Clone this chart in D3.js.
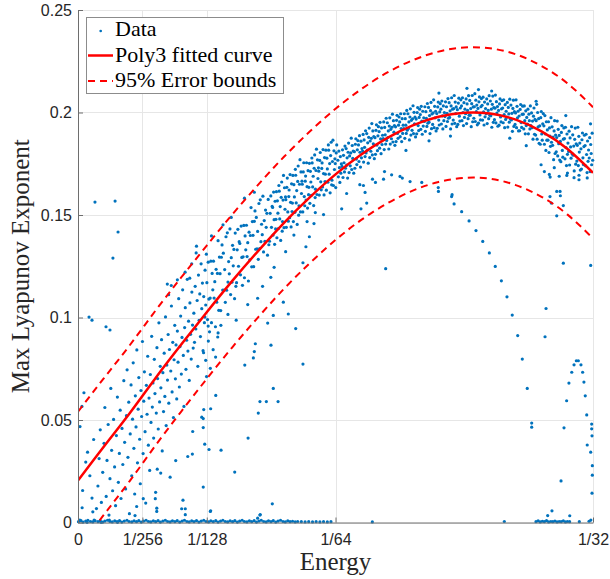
<!DOCTYPE html>
<html><head><meta charset="utf-8">
<script src="https://cdn.jsdelivr.net/npm/d3@7"></script>
<style>body{margin:0;background:#fff}svg{display:block}</style>
</head><body><svg id="c" width="610" height="579"></svg>
<script>
// ---------- axis ticks ----------
const xTicks=[0,1/256,1/128,1/64,1/32];
const xTickLabels=["0","1/256","1/128","1/64","1/32"];
const yTicks=[0,0.05,0.1,0.15,0.2,0.25];
const yTickLabels=["0","0.05","0.1","0.15","0.2","0.25"];
const legendLabels=["Data","Poly3 fitted curve","95% Error bounds"];

// ---------- fitted curve and 95% bounds ----------
const fitE=[0,0.0015625,0.003125,0.0046875,0.00625,0.0078125,0.009375,0.0109375,0.0125,0.0140625,0.015625,0.0171875,0.01875,0.0203125,0.021875,0.0234375,0.025,0.0265625,0.028125,0.0296875,0.03125];
const fitL=[0.0205,0.0370,0.0532,0.0703,0.0867,0.1026,0.1180,0.1325,0.1462,0.1586,0.1698,0.1795,0.1875,0.1937,0.1979,0.1999,0.1995,0.1965,0.1908,0.1823,0.1706];
const upperL=[0.0540,0.0703,0.0863,0.1032,0.1194,0.1351,0.1504,0.1648,0.1784,0.1907,0.2018,0.2114,0.2194,0.2255,0.2297,0.2317,0.2313,0.2284,0.2227,0.2143,0.2026];
const lowerL=[-0.0130,0.0037,0.0201,0.0374,0.0540,0.0701,0.0856,0.1002,0.1140,0.1265,0.1378,0.1476,0.1556,0.1619,0.1661,0.1681,0.1677,0.1646,0.1589,0.1503,0.1386];

// ---------- scatter data [Energy, MaxLyapunov] ----------
const zeroRow=[[0.00003,0.0004],[0.00018,0.0009],[0.00031,0.0002],[0.00047,0.0007],[0.0006,0.0011],[0.00076,0.0005],[0.0009,0.0003],[0.00104,0.0008],
[0.00121,0.0004],[0.00135,0.0009],[0.0015,0.0002],[0.00163,0.0007],[0.00179,0.0011],[0.00194,0.0005],[0.00208,0.0003],[0.00223,0.0008],
[0.00237,0.0004],[0.00252,0.0009],[0.00266,0.0002],[0.00281,0.0007],[0.00297,0.0011],[0.0031,0.0005],[0.00326,0.0003],[0.0034,0.0008],
[0.00355,0.0004],[0.00369,0.0009],[0.00384,0.0002],[0.00398,0.0007],[0.00413,0.0011],[0.00428,0.0005],[0.00442,0.0003],[0.00457,0.0008],
[0.00471,0.0004],[0.00486,0.0009],[0.005,0.0002],[0.00515,0.0007],[0.0053,0.0011],[0.00544,0.0005],[0.00559,0.0003],[0.00573,0.0008],
[0.00588,0.0004],[0.00602,0.0009],[0.00617,0.0002],[0.00632,0.0007],[0.00646,0.0011],[0.00661,0.0005],[0.00675,0.0003],[0.0069,0.0008],
[0.00704,0.0004],[0.00719,0.0009],[0.00734,0.0002],[0.00748,0.0007],[0.00763,0.0011],[0.00777,0.0005],[0.00792,0.0003],[0.00806,0.0008],
[0.00821,0.0004],[0.00836,0.0009],[0.0085,0.0002],[0.00865,0.0007],[0.00879,0.0011],[0.00894,0.0005],[0.00908,0.0003],[0.00923,0.0008],
[0.00938,0.0004],[0.00952,0.0009],[0.00967,0.0002],[0.00981,0.0007],[0.00996,0.0011],[0.0101,0.0005],[0.01025,0.0003],[0.0104,0.0008],
[0.01054,0.0004],[0.01069,0.0009],[0.01083,0.0002],[0.01098,0.0007],[0.01112,0.0011],[0.01127,0.0005],[0.01142,0.0003],[0.01156,0.0008],
[0.01171,0.0004],[0.01185,0.0009],[0.012,0.0002],[0.01214,0.0007],[0.01229,0.0011],[0.01244,0.0005],[0.01258,0.0003],[0.01273,0.0008],
[0.01287,0.0004],[0.01302,0.0006],[0.01318,0.0003],[0.01333,0.0005],[0.01355,0.0004],[0.01378,0.0003],[0.014,0.0004],[0.01423,0.0003],
[0.01445,0.0004],[0.01468,0.0003],[0.0149,0.0004],[0.01513,0.0003],[0.01535,0.0004],
[0.00011,0.0012],[0.00055,0.0001],[0.00098,0.0012],[0.0014,0.0001],[0.0019,0.0012],[0.0024,0.0001],
[0.01786,0.0003],[0.02587,0.0005],[0.02779,0.0004],[0.02792,0.0008],[0.02805,0.0003],[0.02818,0.0006],[0.0283,0.0004],[0.02843,0.0009],
[0.02856,0.0003],[0.02869,0.0005],[0.02881,0.0004],[0.02894,0.0007],[0.02907,0.0003],[0.0292,0.0005],[0.02932,0.0004],[0.02945,0.0008],
[0.02958,0.0003],[0.0297,0.0005],[0.02983,0.0004],[0.03042,0.0004],[0.03101,0.0006],[0.03112,0.0012]];

const bandLow=[[0.00025,0.0072],[0.00028,0.0156],[0.00058,0.0343],[0.00047,0.0295],[0.00085,0.0119],[0.0009,0.0052],[0.00072,0.0228],[0.00095,0.0405],
[0.00112,0.0068],[0.00121,0.0178],[0.00128,0.0312],[0.00135,0.0452],[0.00142,0.0098],[0.0015,0.0245],[0.00158,0.0386],[0.00163,0.0561],[0.00171,0.0127],[0.00176,0.0303],[0.00183,0.0478],[0.00188,0.0036],[0.00194,0.0214],[0.00199,0.0654],
[0.00204,0.0352],[0.0021,0.0155],[0.00216,0.0503],[0.00222,0.0271],[0.00228,0.0082],[0.00233,0.0424],[0.00239,0.0612],[0.00245,0.0196],[0.00251,0.0337],[0.00256,0.0548],[0.00261,0.0117],[0.00267,0.0459],[0.00272,0.0283],[0.00278,0.0692],[0.00283,0.0391],[0.00289,0.0164],[0.00294,0.0521],[0.00298,0.0745],
[0.00303,0.0318],[0.00308,0.0587],[0.00312,0.0043],[0.00317,0.0432],[0.00322,0.0671],[0.00326,0.0228],[0.00331,0.0504],[0.00335,0.0779],[0.00339,0.0362],[0.00344,0.0139],[0.00348,0.0618],[0.00352,0.0466],[0.00357,0.0842],[0.00361,0.0291],[0.00365,0.0553],[0.00369,0.0707],[0.00374,0.0406],[0.00378,0.0189],[0.00382,0.0644],[0.00386,0.0517],[0.00391,0.0883],[0.00395,0.0336],[0.00399,0.0592],
[0.00403,0.0735],[0.00407,0.0443],[0.00411,0.0095],[0.00415,0.0669],[0.00419,0.0528],[0.00423,0.0811],[0.00427,0.0377],[0.00431,0.0607],[0.00435,0.0254],[0.00439,0.0722],[0.00443,0.0488],[0.00447,0.0908],[0.00451,0.0563],[0.00455,0.0681],[0.00459,0.0412],[0.00463,0.0796],[0.00467,0.0629],[0.00471,0.0147],[0.00475,0.0534],[0.00479,0.0853],[0.00483,0.0702],[0.00487,0.0456],[0.00491,0.0974],[0.00495,0.0588],[0.00499,0.0762],
[0.00503,0.0657],[0.00507,0.0892],[0.00511,0.0349],[0.00515,0.0731],[0.00519,0.0541],[0.00523,0.0826],[0.00527,0.0615],[0.00531,0.1003],[0.00535,0.0473],[0.00539,0.0768],[0.00543,0.0695],[0.00547,0.0917],[0.00551,0.0582],[0.00555,0.0844],[0.00559,0.0221],[0.00563,0.0739],[0.00567,0.1056],[0.00571,0.0637],[0.00575,0.0879],[0.00579,0.0512],[0.00583,0.0794],[0.00587,0.0962],[0.00591,0.0701],[0.00595,0.0866],[0.00599,0.0603],
[0.00603,0.0934],[0.00607,0.0782],[0.00611,0.1092],[0.00615,0.0661],[0.00619,0.0858],[0.00623,0.1007],[0.00627,0.0724],[0.00631,0.0903],[0.00635,0.1135],[0.00639,0.0815],[0.00643,0.0566],[0.00647,0.0951],[0.00651,0.1048],[0.00655,0.0747],[0.00659,0.0889],[0.00663,0.1186],[0.00667,0.0836],[0.00671,0.0982],[0.00675,0.0693],[0.00679,0.1071],[0.00683,0.0918],[0.00687,0.0797],[0.00691,0.1124],[0.00695,0.0963],[0.00699,0.0851],
[0.00703,0.1021],[0.00707,0.0879],[0.00711,0.1152],[0.00715,0.0944],[0.00719,0.1348],[0.00723,0.1083],[0.00727,0.0762],[0.00731,0.1207],[0.00735,0.0986],[0.00739,0.1115],[0.00743,0.0907],[0.00747,0.1262],[0.00751,0.1043],[0.00755,0.1168],[0.00759,0.0838],[0.00763,0.1102],[0.00767,0.0975],[0.00771,0.1231],[0.00775,0.1061],[0.00779,0.1309],
[0.00024,0.0566],[0.00036,0.0633],[0.00012,0.0468],[0.00717,0.1315],[0.00542,0.1163],[0.00566,0.1156],[0.00603,0.1184],[0.0055,0.1111],[0.00678,0.1192],[0.0065,0.1221],[0.0069,0.1262],
[0.00762,0.0828],[0.00775,0.0791],[0.0078,0.0712],[0.00791,0.0885],[0.00803,0.0752],[0.0082,0.0843],[0.00835,0.0807],[0.00848,0.0905],[0.00867,0.0962],[0.0091,0.1015],[0.0077,0.1002],[0.0079,0.0958]];

const bandMid=[[0.00782,0.117],[0.00786,0.099],[0.0079,0.127],[0.00794,0.109],[0.00798,0.093],
[0.00802,0.1095],[0.00806,0.1275],[0.0081,0.0975],[0.00814,0.1215],[0.00818,0.1135],
[0.00822,0.1275],[0.00826,0.1095],[0.0083,0.1175],[0.00834,0.0955],[0.00838,0.1235],
[0.00842,0.1075],[0.00846,0.1215],[0.0085,0.1375],[0.00854,0.1035],[0.00858,0.1295],
[0.00862,0.1214],[0.00866,0.1034],[0.0087,0.1294],[0.00874,0.1354],[0.00878,0.1134],
[0.00882,0.1314],[0.00886,0.1134],[0.0089,0.1234],[0.00894,0.1074],[0.00898,0.1394],
[0.00902,0.1133],[0.00906,0.1413],[0.0091,0.1173],[0.00914,0.1273],[0.00918,0.1213],
[0.00922,0.1432],[0.00926,0.1112],[0.0093,0.1292],[0.00934,0.1172],[0.00938,0.1352],
[0.00942,0.1252],[0.00946,0.1332],[0.0095,0.1092],[0.00954,0.1412],[0.00958,0.1152],
[0.00962,0.117],[0.00966,0.133],[0.0097,0.143],[0.00974,0.125],[0.00978,0.137],
[0.00982,0.1361],[0.00986,0.1208],[0.0099,0.1446],[0.00994,0.1293],[0.00998,0.1157],
[0.01002,0.1296],[0.01006,0.1449],[0.0101,0.1194],[0.01014,0.1398],[0.01018,0.133],
[0.01022,0.145],[0.01026,0.1297],[0.0103,0.1365],[0.01034,0.1178],[0.01038,0.1416],
[0.01042,0.1281],[0.01046,0.14],[0.0105,0.1536],[0.01054,0.1247],[0.01058,0.1468],
[0.01062,0.1401],[0.01066,0.1248],[0.0107,0.1469],[0.01074,0.152],[0.01078,0.1333],
[0.01082,0.1488],[0.01086,0.1335],[0.0109,0.142],[0.01094,0.1284],[0.01098,0.1556],
[0.01102,0.1336],[0.01106,0.1574],[0.0111,0.137],[0.01114,0.1455],[0.01118,0.1404],
[0.01122,0.1592],[0.01126,0.132],[0.0113,0.1473],[0.01134,0.1371],[0.01138,0.1524],
[0.01142,0.144],[0.01146,0.1508],[0.0115,0.1304],[0.01154,0.1576],[0.01158,0.1355],
[0.01162,0.1372],[0.01166,0.1508],[0.0117,0.1593],[0.01174,0.144],[0.01178,0.1542],
[0.01181,0.1537],[0.01184,0.1402],[0.01187,0.1612],[0.0119,0.1477],[0.01193,0.1357],[0.01196,0.1567],[0.01199,0.1432],
[0.01201,0.1479],[0.01204,0.1614],[0.01207,0.1389],[0.0121,0.1569],[0.01213,0.1509],[0.01216,0.1434],[0.01219,0.1644],
[0.01221,0.1616],[0.01224,0.1481],[0.01227,0.1541],[0.0123,0.1376],[0.01233,0.1586],[0.01236,0.1661],[0.01239,0.1421],
[0.01241,0.1468],[0.01244,0.1573],[0.01247,0.1693],[0.0125,0.1438],[0.01253,0.1633],[0.01256,0.1528],[0.01259,0.1588],
[0.01261,0.1575],[0.01264,0.144],[0.01267,0.1635],[0.0127,0.168],[0.01273,0.1515],[0.01276,0.147],[0.01279,0.159],
[0.01281,0.1622],[0.01284,0.1487],[0.01287,0.1697],[0.0129,0.1562],[0.01293,0.1442],[0.01296,0.1652],[0.01299,0.1517],
[0.01301,0.1558],[0.01304,0.1693],[0.01307,0.1468],[0.0131,0.1648],[0.01313,0.1588],[0.01316,0.1513],[0.01319,0.1723],
[0.01321,0.1694],[0.01324,0.1559],[0.01327,0.1619],[0.0133,0.1454],[0.01333,0.1664],[0.01336,0.1739],[0.01339,0.1499],
[0.01341,0.1545],[0.01344,0.165],[0.01347,0.177],[0.0135,0.1515],[0.01353,0.171],[0.01356,0.1605],[0.01359,0.1665],
[0.01361,0.165],[0.01364,0.1515],[0.01367,0.171],[0.0137,0.1755],[0.01373,0.159],[0.01376,0.1545],[0.01379,0.1665],
[0.01381,0.169],[0.01384,0.1573],[0.01387,0.1755],[0.0139,0.1638],[0.01393,0.1534],[0.01396,0.1716],[0.01399,0.1599],
[0.01401,0.1635],[0.01404,0.1752],[0.01407,0.1557],[0.0141,0.1713],[0.01413,0.1661],[0.01416,0.1596],[0.01419,0.1778],
[0.01421,0.1754],[0.01424,0.1637],[0.01427,0.1689],[0.0143,0.1546],[0.01433,0.1728],[0.01436,0.1793],[0.01439,0.1585],
[0.01441,0.1626],[0.01444,0.1717],[0.01447,0.1821],[0.0145,0.16],[0.01453,0.1769],[0.01456,0.1678],[0.01459,0.173],
[0.01461,0.1714],[0.01464,0.1597],[0.01467,0.1766],[0.0147,0.1805],[0.01473,0.1662],[0.01476,0.1623],[0.01479,0.1727],
[0.01481,0.1754],[0.01484,0.1637],[0.01487,0.1819],[0.0149,0.1702],[0.01493,0.1598],[0.01496,0.178],[0.01499,0.1663],
[0.01501,0.1699],[0.01504,0.1816],[0.01507,0.1621],[0.0151,0.1777],[0.01513,0.1725],[0.01516,0.166],[0.01519,0.1842],
[0.01521,0.1816],[0.01524,0.1699],[0.01527,0.1751],[0.0153,0.1608],[0.01533,0.179],[0.01536,0.1855],[0.01539,0.1647],
[0.01541,0.167],[0.01544,0.1761],[0.01547,0.1865],[0.0155,0.1644],[0.01553,0.1813],[0.01556,0.1722],[0.01559,0.1774],
[0.01561,0.1751],[0.01564,0.1634],[0.01567,0.1803],[0.0157,0.1842],
[0.0081,0.1398],[0.0088,0.1452],[0.0093,0.1488],[0.0101,0.1582],[0.0107,0.1611],[0.0096,0.0987],[0.0103,0.1063],[0.0112,0.1152],[0.0119,0.1245],[0.0126,0.1321],[0.0131,0.1402],[0.0085,0.0925],[0.0139,0.1468],[0.0144,0.1512],[0.0117,0.1196],[0.0109,0.1094]];

const bandHigh=[[0.01577,0.1767],[0.0158,0.1686],[0.01583,0.1812],[0.01586,0.1731],[0.01589,0.1659],[0.01592,0.1785],[0.01595,0.1704],[0.01598,0.1749],
[0.01602,0.1737],[0.01605,0.1818],[0.01608,0.1683],[0.01611,0.1791],[0.01614,0.1755],[0.01617,0.171],[0.0162,0.1836],[0.01623,0.1728],
[0.01627,0.1824],[0.0163,0.1743],[0.01633,0.1779],[0.01636,0.168],[0.01639,0.1806],[0.01642,0.1851],[0.01645,0.1707],[0.01648,0.1788],
[0.01652,0.174],[0.01655,0.1803],[0.01658,0.1875],[0.01661,0.1722],[0.01664,0.1839],[0.01667,0.1776],[0.0167,0.1812],[0.01673,0.1704],
[0.01677,0.1809],[0.0168,0.1728],[0.01683,0.1845],[0.01686,0.1872],[0.01689,0.1773],[0.01692,0.1746],[0.01695,0.1818],[0.01698,0.1863],
[0.01702,0.1842],[0.01705,0.1761],[0.01708,0.1887],[0.01711,0.1806],[0.01714,0.1734],[0.01717,0.186],[0.0172,0.1779],[0.01723,0.1824],
[0.01727,0.1812],[0.0173,0.1893],[0.01733,0.1758],[0.01736,0.1866],[0.01739,0.183],[0.01742,0.1785],[0.01745,0.1911],[0.01748,0.1803],
[0.01752,0.1897],[0.01755,0.1816],[0.01758,0.1852],[0.01761,0.1753],[0.01764,0.1879],[0.01767,0.1924],[0.0177,0.178],[0.01773,0.1861],
[0.01777,0.1811],[0.0178,0.1874],[0.01783,0.1946],[0.01786,0.1793],[0.01789,0.191],[0.01792,0.1847],[0.01795,0.1883],[0.01798,0.1775],
[0.01802,0.1877],[0.01805,0.1796],[0.01808,0.1913],[0.01811,0.194],[0.01814,0.1841],[0.01817,0.1814],[0.0182,0.1886],[0.01823,0.1931],
[0.01827,0.1907],[0.0183,0.1826],[0.01833,0.1952],[0.01836,0.1871],[0.01839,0.1799],[0.01842,0.1925],[0.01845,0.1844],[0.01848,0.1889],
[0.01852,0.1873],[0.01855,0.1954],[0.01858,0.1819],[0.01861,0.1927],[0.01864,0.1891],[0.01867,0.1846],[0.0187,0.1972],[0.01873,0.1864],
[0.01877,0.195],[0.0188,0.1878],[0.01883,0.191],[0.01886,0.1822],[0.01889,0.1934],[0.01892,0.1974],[0.01895,0.1846],[0.01898,0.1918],
[0.01902,0.1872],[0.01905,0.1928],[0.01908,0.1992],[0.01911,0.1856],[0.01914,0.196],[0.01917,0.1904],[0.0192,0.1936],[0.01923,0.184],
[0.01927,0.193],[0.0193,0.1858],[0.01933,0.1962],[0.01936,0.1986],[0.01939,0.1898],[0.01942,0.1874],[0.01945,0.1938],[0.01948,0.1978],
[0.01952,0.1954],[0.01955,0.1882],[0.01958,0.1994],[0.01961,0.1922],[0.01964,0.1858],[0.01967,0.197],[0.0197,0.1898],[0.01973,0.1938],
[0.01977,0.1922],[0.0198,0.1994],[0.01983,0.1874],[0.01986,0.197],[0.01989,0.1938],[0.01992,0.1898],[0.01995,0.201],[0.01998,0.1914],
[0.02002,0.1994],[0.02005,0.1922],[0.02008,0.1954],[0.02011,0.1866],[0.02014,0.1978],[0.02017,0.2018],[0.0202,0.189],[0.02023,0.1962],
[0.02027,0.1913],[0.0203,0.1969],[0.02033,0.2033],[0.02036,0.1897],[0.02039,0.2001],[0.02042,0.1945],[0.02045,0.1977],[0.02048,0.1881],
[0.02052,0.1968],[0.02055,0.1896],[0.02058,0.2],[0.02061,0.2024],[0.02064,0.1936],[0.02067,0.1912],[0.0207,0.1976],[0.02073,0.2016],
[0.02077,0.199],[0.0208,0.1918],[0.02083,0.203],[0.02086,0.1958],[0.02089,0.1894],[0.02092,0.2006],[0.02095,0.1934],[0.02098,0.1974],
[0.02102,0.1956],[0.02105,0.2028],[0.02108,0.1908],[0.02111,0.2004],[0.02114,0.1972],[0.02117,0.1932],[0.0212,0.2044],[0.02123,0.1948],
[0.02127,0.2025],[0.0213,0.1953],[0.02133,0.1985],[0.02136,0.1897],[0.02139,0.2009],[0.02142,0.2049],[0.02145,0.1921],[0.02148,0.1993],
[0.02152,0.1942],[0.02155,0.1998],[0.02158,0.2062],[0.02161,0.1926],[0.02164,0.203],[0.02167,0.1974],[0.0217,0.2006],[0.02173,0.191],
[0.02177,0.1995],[0.0218,0.1923],[0.02183,0.2027],[0.02186,0.2051],[0.02189,0.1963],[0.02192,0.1939],[0.02195,0.2003],[0.02198,0.2043],
[0.02202,0.2016],[0.02205,0.1944],[0.02208,0.2056],[0.02211,0.1984],[0.02214,0.192],[0.02217,0.2032],[0.0222,0.196],[0.02223,0.2],
[0.02227,0.198],[0.0223,0.2052],[0.02233,0.1932],[0.02236,0.2028],[0.02239,0.1996],[0.02242,0.1956],[0.02245,0.2068],[0.02248,0.1972],
[0.02252,0.2048],[0.02255,0.1976],[0.02258,0.2008],[0.02261,0.192],[0.02264,0.2032],[0.02267,0.2072],[0.0227,0.1944],[0.02273,0.2016],
[0.02277,0.1963],[0.0228,0.2019],[0.02283,0.2083],[0.02286,0.1947],[0.02289,0.2051],[0.02292,0.1995],[0.02295,0.2027],[0.02298,0.1931],
[0.02302,0.2014],[0.02305,0.1942],[0.02308,0.2046],[0.02311,0.207],[0.02314,0.1982],[0.02317,0.1958],[0.0232,0.2022],[0.02323,0.2062],
[0.02327,0.2032],[0.0233,0.196],[0.02333,0.2072],[0.02336,0.2],[0.02339,0.1936],[0.02342,0.2048],[0.02345,0.1976],[0.02348,0.2016],
[0.02352,0.1994],[0.02355,0.2066],[0.02358,0.1946],[0.02361,0.2042],[0.02364,0.201],[0.02367,0.197],[0.0237,0.2082],[0.02373,0.1986],
[0.02377,0.2059],[0.0238,0.1987],[0.02383,0.2019],[0.02386,0.1931],[0.02389,0.2043],[0.02392,0.2083],[0.02395,0.1955],[0.02398,0.2027],
[0.02402,0.1972],[0.02405,0.2028],[0.02408,0.2092],[0.02411,0.1956],[0.02414,0.206],[0.02417,0.2004],[0.0242,0.2036],[0.02423,0.194],
[0.02427,0.202],[0.0243,0.1948],[0.02433,0.2052],[0.02436,0.2076],[0.02439,0.1988],[0.02442,0.1964],[0.02445,0.2028],[0.02448,0.2068],
[0.02452,0.2035],[0.02455,0.1963],[0.02458,0.2075],[0.02461,0.2003],[0.02464,0.1939],[0.02467,0.2051],[0.0247,0.1979],[0.02473,0.2019],
[0.02477,0.1994],[0.0248,0.2066],[0.02483,0.1946],[0.02486,0.2042],[0.02489,0.201],[0.02492,0.197],[0.02495,0.2082],[0.02498,0.1986],
[0.02502,0.2056],[0.02505,0.1984],[0.02508,0.2016],[0.02511,0.1928],[0.02514,0.204],[0.02517,0.208],[0.0252,0.1952],[0.02523,0.2024],
[0.02527,0.1965],[0.0253,0.2021],[0.02533,0.2085],[0.02536,0.1949],[0.02539,0.2053],[0.02542,0.1997],[0.02545,0.2029],[0.02548,0.1933],
[0.02552,0.201],[0.02555,0.1938],[0.02558,0.2042],[0.02561,0.2066],[0.02564,0.1978],[0.02567,0.1954],[0.0257,0.2018],[0.02573,0.2058],
[0.02577,0.2022],[0.0258,0.195],[0.02583,0.2062],[0.02586,0.199],[0.02589,0.1926],[0.02592,0.2038],[0.02595,0.1966],[0.02598,0.2006],
[0.02602,0.1977],[0.02605,0.2049],[0.02608,0.1929],[0.02611,0.2025],[0.02614,0.1993],[0.02617,0.1953],[0.0262,0.2065],[0.02623,0.1969],
[0.02627,0.2036],[0.0263,0.1964],[0.02633,0.1996],[0.02636,0.1908],[0.02639,0.202],[0.02642,0.206],[0.02645,0.1932],[0.02648,0.2004],
[0.02652,0.1942],[0.02655,0.1998],[0.02658,0.2062],[0.02661,0.1926],[0.02664,0.203],[0.02667,0.1974],[0.0267,0.2006],[0.02673,0.191],
[0.02677,0.1983],[0.0268,0.1911],[0.02683,0.2015],[0.02686,0.2039],[0.02689,0.1951],[0.02692,0.1927],[0.02695,0.1991],[0.02698,0.2031],
[0.02702,0.1992],[0.02705,0.192],[0.02708,0.2032],[0.02711,0.196],[0.02714,0.1896],[0.02717,0.2008],[0.0272,0.1936],[0.02723,0.1976],
[0.02727,0.1944],[0.0273,0.2016],[0.02733,0.1896],[0.02736,0.1992],[0.02739,0.196],[0.02742,0.192],[0.02745,0.2032],[0.02748,0.1936],
[0.02752,0.1998],[0.02755,0.1926],[0.02758,0.1958],[0.02761,0.187],[0.02764,0.1982],[0.02767,0.2022],[0.0277,0.1894],[0.02773,0.1966],
[0.02777,0.189],[0.0278,0.196],[0.02783,0.204],[0.02786,0.187],[0.02789,0.2],[0.02792,0.193],[0.02795,0.197],[0.02798,0.185],
[0.02802,0.1935],[0.02805,0.1845],[0.02808,0.1975],[0.02811,0.2005],[0.02814,0.1895],[0.02817,0.1865],[0.0282,0.1945],[0.02823,0.1995],
[0.02827,0.1935],[0.0283,0.1845],[0.02833,0.1985],[0.02836,0.1895],[0.02839,0.1815],[0.02842,0.1955],[0.02845,0.1865],[0.02848,0.1915],
[0.02852,0.1865],[0.02855,0.1955],[0.02858,0.1805],[0.02861,0.1925],[0.02864,0.1885],[0.02867,0.1835],[0.0287,0.1975],[0.02873,0.1855],
[0.02877,0.193],[0.0288,0.184],[0.02883,0.188],[0.02886,0.177],[0.02889,0.191],[0.02892,0.196],[0.02895,0.18],[0.02898,0.189],
[0.02902,0.1808],[0.02905,0.1878],[0.02908,0.1958],[0.02911,0.1788],[0.02914,0.1918],[0.02917,0.1848],[0.0292,0.1888],[0.02923,0.1768],
[0.02927,0.1859],[0.0293,0.176],[0.02933,0.1903],[0.02936,0.1936],[0.02939,0.1815],[0.02942,0.1782],[0.02945,0.187],[0.02948,0.1925],
[0.02952,0.1873],[0.02955,0.1774],[0.02958,0.1928],[0.02961,0.1829],[0.02964,0.1741],[0.02967,0.1895],[0.0297,0.1796],[0.02973,0.1851],
[0.02977,0.181],[0.0298,0.1909],[0.02983,0.1744],[0.02986,0.1876],[0.02989,0.1832],[0.02992,0.1777],[0.02995,0.1931],[0.02998,0.1799],
[0.03002,0.1891],[0.03005,0.1792],[0.03008,0.1836],[0.03011,0.1715],[0.03014,0.1869],[0.03017,0.1924],[0.0302,0.1748],[0.03023,0.1847],
[0.03027,0.1763],[0.0303,0.184],[0.03033,0.1928],[0.03036,0.1741],[0.03039,0.1884],[0.03042,0.1807],[0.03045,0.1851],[0.03048,0.1719],
[0.03052,0.1823],[0.03055,0.1724],[0.03058,0.1867],[0.03061,0.19],[0.03064,0.1779],[0.03067,0.1746],[0.0307,0.1834],[0.03073,0.1889],
[0.03077,0.1839],[0.0308,0.174],[0.03083,0.1894],[0.03086,0.1795],[0.03089,0.1707],[0.03092,0.1861],[0.03095,0.1762],[0.03098,0.1817],
[0.03102,0.1778],[0.03105,0.1877],[0.03108,0.1712],[0.03111,0.1844],[0.03114,0.18],[0.03117,0.1745],[0.0312,0.1899],[0.03123,0.1767],
[0.0163,0.1605],[0.0171,0.1648],[0.0186,0.1712],[0.0199,0.1815],[0.0213,0.1862],[0.0226,0.1885],[0.0236,0.2118],[0.0243,0.2112],[0.0251,0.2105],[0.0219,0.2095],[0.0262,0.1875],[0.0272,0.1838],
[0.0281,0.1745],[0.0283,0.1712],[0.0286,0.1698],[0.0289,0.1731],[0.0292,0.1689],[0.0297,0.1705],[0.0301,0.1682],[0.0304,0.1694],[0.0309,0.1681],[0.0278,0.2055],[0.0296,0.1985],[0.0311,0.1945],
[0.02865,0.1685],[0.02966,0.1693],[0.0304,0.1672],[0.02925,0.1615],[0.02927,0.1594],[0.02872,0.1558]];

const outliers=[[0.00103,0.1563],[0.00225,0.1568],[0.00243,0.1417],[0.00212,0.129],[0.00067,0.1002],[0.00085,0.0987],[0.0017,0.0955],[0.00194,0.0939],
[0.01365,0.1267],[0.01365,0.0773],[0.01867,0.1238],[0.01404,0.1394],[0.01432,0.1458],[0.0149,0.1502],[0.01383,0.1345],
[0.016,0.153],[0.01717,0.153],[0.01752,0.1558],[0.01742,0.161],[0.01732,0.1644],[0.01787,0.1675],[0.01805,0.1659],[0.01854,0.1675],[0.01903,0.1696],[0.01954,0.1688],[0.01968,0.168],[0.02015,0.1663],[0.02086,0.1659],[0.02186,0.1634],[0.02187,0.1615],[0.02267,0.159],[0.0227,0.1599],
[0.02282,0.1554],[0.02328,0.1516],[0.02373,0.1471],[0.02415,0.1424],[0.02456,0.1371],[0.02496,0.1315],[0.02532,0.1249],[0.02569,0.1179],[0.02603,0.1101],[0.02635,0.1012],[0.02668,0.0912],[0.02696,0.0797],[0.02726,0.0654],[0.02753,0.0485],[0.02753,0.0465],
[0.02905,0.1615],[0.02864,0.159],[0.02945,0.1546],[0.02905,0.1496],[0.02945,0.1265],[0.03111,0.1254],[0.0284,0.1044],[0.02834,0.0906],
[0.02979,0.068],[0.02996,0.0733],[0.0301,0.0769],[0.03024,0.0789],[0.03036,0.0789],[0.03052,0.0769],[0.03062,0.0733],[0.0307,0.0685],[0.03078,0.0618],[0.03087,0.0525],[0.03117,0.048],[0.03117,0.0457],[0.03119,0.0423],[0.0309,0.0378],[0.03111,0.0343],[0.03121,0.0277],[0.03121,0.0231],[0.03119,0.0143],
[0.02965,0.0594],[0.02949,0.0462],[0.02931,0.0203],[0.02876,0.0057],[0.0285,0.0034],[0.02984,0.0033],
[0.01321,0.0946],[0.01185,0.0654],[0.01104,0.059],[0.01143,0.059],[0.01214,0.059],[0.01094,0.0534],[0.01032,0.0412],[0.00951,0.0246],[0.01179,0.0091],[0.01106,0.0039],[0.00805,0.0057],[0.00868,0.0353],[0.00795,0.0356],[0.00769,0.0382],[0.0076,0.0463],[0.0076,0.0507],[0.00763,0.0551],[0.00805,0.0555],[0.00836,0.062],[0.0076,0.0173],
[0.01171,0.0865],[0.01076,0.0872],[0.0107,0.0834],[0.01064,0.0803],[0.01012,0.0768],[0.01151,0.0973],[0.01276,0.1017],[0.01185,0.101],[0.01246,0.1075],
[0.00751,0.0514],[0.00696,0.0444],[0.00637,0.0109],[0.00629,0.0067],[0.00651,0.0067],[0.00651,0.0038],[0.00803,0.0054],[0.01104,0.0036],[0.0109,0.0021],[0.00593,0.0302],[0.00666,0.0322],[0.00694,0.0334],[0.00481,0.026],[0.00502,0.0241],[0.00478,0.007],[0.00478,0.0054],[0.00469,0.0116],[0.00396,0.0116],[0.00356,0.0078],[0.00346,0.0034]];

// ---------- drawing ----------
const L=78,R=593,T=10,B=522.5;
const svg=d3.select("#c");
const x=d3.scaleLinear().domain([0,1/32]).range([L,R]);
const y=d3.scaleLinear().domain([0,0.25]).range([B,T]);
const blue="#0072BD", red="#FF0000";
const dotR=1.6;

svg.append("defs").append("clipPath").attr("id","clip")
  .append("rect").attr("x",L).attr("y",T).attr("width",R-L).attr("height",B-T);

// grid
const grid=svg.append("g").attr("stroke","#e6e6e6").attr("stroke-width",1).attr("shape-rendering","crispEdges");
grid.selectAll("line.v").data(xTicks).join("line").attr("class","v")
  .attr("x1",d=>Math.round(x(d))+0.5).attr("x2",d=>Math.round(x(d))+0.5).attr("y1",T).attr("y2",B);
grid.selectAll("line.h").data(yTicks).join("line").attr("class","h")
  .attr("y1",d=>Math.round(y(d))+0.5).attr("y2",d=>Math.round(y(d))+0.5).attr("x1",L).attr("x2",R);

// scatter
const allPts=[].concat(zeroRow,bandLow,bandMid,bandHigh,outliers);
svg.append("g").selectAll("circle").data(allPts).join("circle")
  .attr("cx",d=>x(d[0])).attr("cy",d=>y(d[1])).attr("r",dotR).attr("fill",blue);

// curves
const curveData=fitE.map((e,i)=>({e,f:fitL[i],u:upperL[i],l:lowerL[i]}));
const plot=svg.append("g").attr("clip-path","url(#clip)");
const mk=key=>d3.line().x(d=>x(d.e)).y(d=>y(d[key])).curve(d3.curveNatural);
plot.append("path").datum(curveData).attr("d",mk("f")).attr("fill","none").attr("stroke",red).attr("stroke-width",2.5);
plot.append("path").datum(curveData).attr("d",mk("u")).attr("fill","none").attr("stroke",red).attr("stroke-width",2).attr("stroke-dasharray","7,5");
plot.append("path").datum(curveData).attr("d",mk("l")).attr("fill","none").attr("stroke",red).attr("stroke-width",2).attr("stroke-dasharray","7,5");

// axes
const tickFont="'Liberation Sans', Arial, Helvetica, sans-serif";
const xAxis=d3.axisBottom(x).tickValues(xTicks).tickFormat((d,i)=>xTickLabels[i]).tickSizeInner(-5).tickSizeOuter(0).tickPadding(11);
const yAxis=d3.axisLeft(y).tickValues(yTicks).tickFormat((d,i)=>yTickLabels[i]).tickSizeInner(-5).tickSizeOuter(0).tickPadding(6);
const gx=svg.append("g").attr("transform",`translate(0,${B})`).call(xAxis);
const gy=svg.append("g").attr("transform",`translate(${L},0)`).call(yAxis);
[gx,gy].forEach(g=>{
  g.select(".domain").attr("stroke","#6e6e6e").attr("stroke-width",1);
  g.selectAll(".tick line").attr("stroke","#6e6e6e");
  g.selectAll(".tick text").attr("fill","#262626").style("font-family",tickFont).style("font-size","16px");
});

// axis labels
const serif="'Liberation Serif','Times New Roman',serif";
svg.append("text").attr("x",(L+R)/2).attr("y",570).attr("text-anchor","middle")
  .style("font-family",serif).style("font-size","25px").attr("fill","#262626").text("Energy");
svg.append("text").attr("transform",`translate(29,${(T+B)/2}) rotate(-90)`).attr("text-anchor","middle")
  .style("font-family",serif).style("font-size","25px").attr("fill","#262626").text("Max Lyapunov Exponent");

// legend
const lg=svg.append("g");
lg.append("rect").attr("x",86.5).attr("y",17.5).attr("width",197).attr("height",76)
  .attr("fill","#fff").attr("stroke","#8c8c8c").attr("stroke-width",1);
lg.append("circle").attr("cx",100.7).attr("cy",31).attr("r",1.35).attr("fill",blue);
lg.append("line").attr("x1",88).attr("x2",113).attr("y1",55.5).attr("y2",55.5).attr("stroke",red).attr("stroke-width",2.5);
lg.append("line").attr("x1",88).attr("x2",113).attr("y1",81).attr("y2",81).attr("stroke",red).attr("stroke-width",2).attr("stroke-dasharray","7,5");
lg.selectAll("text").data(legendLabels).join("text")
  .attr("x",115).attr("y",(d,i)=>[36,61.5,86.5][i])
  .style("font-family",serif).style("font-size","22px").attr("fill","#000").text(d=>d);
</script></body></html>
